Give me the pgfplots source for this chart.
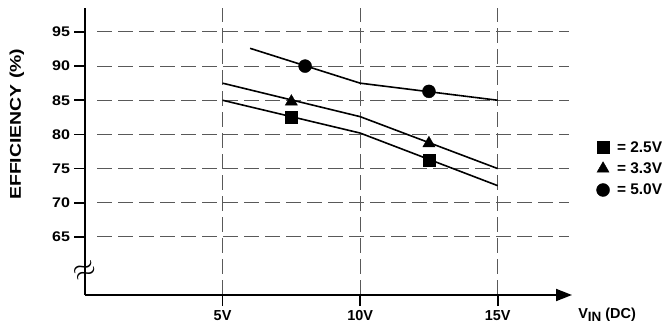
\documentclass[border=0pt]{standalone}
\usepackage{fontspec}
\setmainfont{Liberation Sans}
\usepackage{pgfplots}
\pgfplotsset{compat=1.18}
\usetikzlibrary{arrows.meta}
\newcommand{\legfont}{\bfseries\fontsize{15.5}{17}\selectfont}
\begin{document}
\begin{tikzpicture}
\begin{axis}[
  at={(85bp,38bp)}, anchor=south west,
  scale only axis, width=487bp, height=287bp,
  xmin=0, xmax=17.7, ymin=56.5, ymax=98.5,
  clip=false,
  axis x line*=bottom, axis y line*=left,
  x axis line style={line width=1.8bp, -{Triangle[length=16bp,width=12bp]}},
  y axis line style={line width=1.8bp},
  xtick={5,10,15}, xticklabels={5V,10V,15V},
  ytick={65,70,75,80,85,90,95},
  tick align=outside,
  major tick length=11bp,
  tick style={line width=1.6bp, black},
  xmajorgrids,
  grid style={dash pattern=on 15bp off 6bp, line width=0.9bp, black!65},
  /pgf/number format/assume math mode=true,
  ticklabel style={font=\bfseries\fontsize{14}{16}\selectfont},
  yticklabel style={xscale=1.15},
  xticklabel style={yshift=-1bp, font=\bfseries\fontsize{14.5}{16}\selectfont},
  ylabel={\bfseries\fontsize{19.5}{21}\selectfont EFFICIENCY (\%)},
  ylabel style={at={(axis description cs:-0.14,0.595)}, anchor=center, yscale=0.8},
  xlabel={\bfseries\fontsize{14.5}{16}\selectfont V\raisebox{-0.35ex}{\fontsize{13.5}{14}\selectfont IN} (DC)},
  xlabel style={at={(axis description cs:1.072,-0.07)}, anchor=center},
  legend style={at={(axis description cs:1.050,0.44)}, anchor=west, draw=none, fill=none,
    inner sep=0pt, row sep=6bp,
    nodes={inner sep=1.5bp},
    /tikz/every odd column/.append style={column sep=6bp}},
  legend cell align=left,
]
% horizontal dashed grid lines
\addplot[forget plot, dash pattern=on 15bp off 6bp, line width=0.9bp, black!65] coordinates {(0.44,65) (17.6,65)};
\addplot[forget plot, dash pattern=on 15bp off 6bp, line width=0.9bp, black!65] coordinates {(0.44,70) (17.6,70)};
\addplot[forget plot, dash pattern=on 15bp off 6bp, line width=0.9bp, black!65] coordinates {(0.44,75) (17.6,75)};
\addplot[forget plot, dash pattern=on 15bp off 6bp, line width=0.9bp, black!65] coordinates {(0.44,80) (17.6,80)};
\addplot[forget plot, dash pattern=on 15bp off 6bp, line width=0.9bp, black!65] coordinates {(0.44,85) (17.6,85)};
\addplot[forget plot, dash pattern=on 15bp off 6bp, line width=0.9bp, black!65] coordinates {(0.44,90) (17.6,90)};
\addplot[forget plot, dash pattern=on 15bp off 6bp, line width=0.9bp, black!65] coordinates {(0.44,95) (17.6,95)};
% curves
\addplot[forget plot, black, line width=1.6bp] coordinates {(5,85) (10,80.2) (15,72.5)};
\addplot[forget plot, black, line width=1.6bp] coordinates {(5,87.5) (10,82.6) (15,75)};
\addplot[forget plot, black, line width=1.6bp] coordinates {(6,92.6) (10,87.5) (15,85)};
% markers
\addplot[only marks, mark=square*, mark size=6bp, black] coordinates {(7.5,82.5) (12.5,76.2)};
\addlegendentry{\legfont = 2.5V}
\addplot[only marks, mark=triangle*, mark size=7bp, black] coordinates {(7.5,84.8) (12.5,78.7)};
\addlegendentry{\legfont = 3.3V}
\addplot[only marks, mark=*, mark size=6.5bp, black] coordinates {(8,90) (12.5,86.3)};
\addlegendentry{\legfont = 5.0V}
\node[rotate=25, scale=3, inner sep=0pt] at (axis cs:0,60.0) {$\approx$};
\end{axis}
\pgfresetboundingbox
\path (0,0) rectangle (670bp,333bp);
\end{tikzpicture}
\end{document}
